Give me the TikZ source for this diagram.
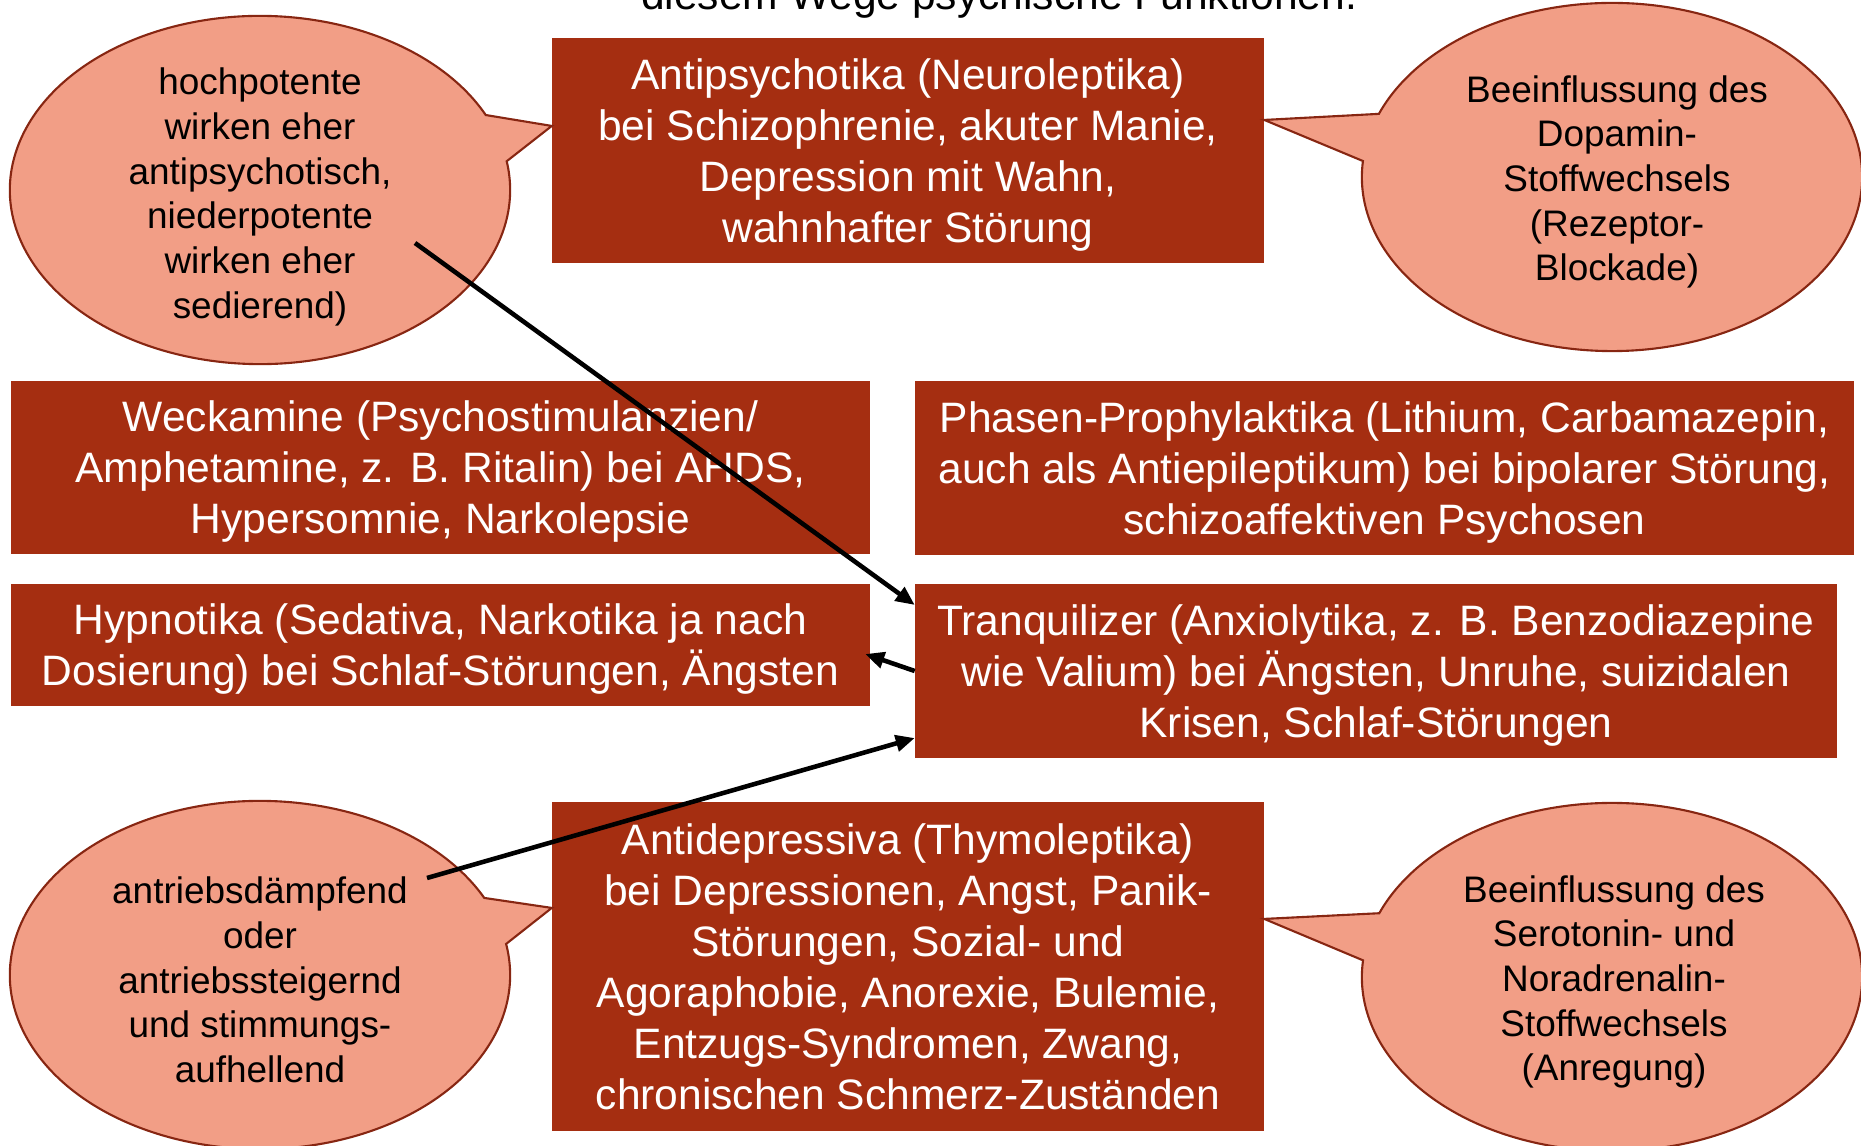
\documentclass[tikz,border=0pt]{standalone}
\usepackage{fontspec}
\setmainfont{Liberation Sans}
\usetikzlibrary{arrows.meta,shapes.callouts,calc}

\definecolor{boxred}{RGB}{165,46,17}
\definecolor{bubblefill}{RGB}{242,158,134}
\definecolor{bubbleline}{RGB}{135,38,18}

\tikzset{
  drug/.style={rectangle, fill=boxred, text=white, inner sep=0pt, outer sep=0pt,
    align=center, font=\fontsize{12.1}{14.5}\selectfont, text depth=0pt},
  bubble/.style={ellipse callout, fill=bubblefill, draw=bubbleline, line width=0.6pt,
    minimum width=5cm, minimum height=3.48cm, inner sep=0pt, outer sep=0pt,
    callout pointer arc=16},
  bubbletext/.style={align=center, inner sep=0pt, font=\fontsize{10.5}{12.7}\selectfont},
  link/.style={-{Triangle[length=5.4pt,width=4.6pt]}, line width=1.3pt, black}
}

\begin{document}
\begin{tikzpicture}[x=0.01cm,y=-0.01cm]
  \useasboundingbox (0,0) rectangle (1861,1146);
  \clip (0,0) rectangle (1861,1146);

  \node[anchor=base, inner sep=0pt, font=\fontsize{12.1}{14.5}\selectfont] (title) at (999,10) {diesem Wege psychische Funktionen.}; %Heading, cut off at the top

  % drug groups
  \node[drug, minimum width=7.12cm, minimum height=2.25cm] (antipsy) at (908,150.5)
    {Antipsychotika (Neuroleptika)\\bei Schizophrenie, akuter Manie,\\Depression mit Wahn,\\wahnhafter Störung};
  \node[drug, minimum width=8.59cm, minimum height=1.73cm] (weck) at (440.5,467.5)
    {Weckamine (Psychostimulanzien/\\Amphetamine, z. B. Ritalin) bei AHDS,\\Hypersomnie, Narkolepsie};
  \node[drug, minimum width=9.39cm, minimum height=1.74cm] (phasen) at (1384.5,468)
    {Phasen-Prophylaktika (Lithium, Carbamazepin,\\auch als Antiepileptikum) bei bipolarer Störung,\\schizoaffektiven Psychosen};
  \node[drug, minimum width=8.59cm, minimum height=1.22cm] (hypno) at (440.5,645)
    {Hypnotika (Sedativa, Narkotika ja nach\\Dosierung) bei Schlaf-Störungen, Ängsten};
  \node[drug, minimum width=9.22cm, minimum height=1.74cm] (tranq) at (1376,671)
    {Tranquilizer (Anxiolytika, z. B. Benzodiazepine\\wie Valium) bei Ängsten, Unruhe, suizidalen\\Krisen, Schlaf-Störungen};
  \node[drug, minimum width=7.12cm, minimum height=3.29cm] (antidep) at (908,966.5)
    {Antidepressiva (Thymoleptika)\\bei Depressionen, Angst, Panik-\\Störungen, Sozial- und\\Agoraphobie, Anorexie, Bulemie,\\Entzugs-Syndromen, Zwang,\\chronischen Schmerz-Zuständen};

  % speech bubbles
  \node[bubble, callout absolute pointer={($(antipsy.north west)+(0,88)$)}] (potenz) at (260,190) {};
  \node[bubble, callout absolute pointer={($(antipsy.north east)+(0,82)$)}] (dopamin) at (1612,177) {};
  \node[bubble, callout absolute pointer={($(antidep.north west)+(0,106)$)}] (antrieb) at (260,975) {};
  \node[bubble, callout absolute pointer={($(antidep.north east)+(0,117)$)}] (serotonin) at (1612,977) {};

  \node[bubbletext] (potenz-t) at (260,197) {hochpotente\\wirken eher\\antipsychotisch,\\niederpotente\\wirken eher\\sedierend)};
  \node[bubbletext] (dopamin-t) at (1617,182) {Beeinflussung des\\Dopamin-\\Stoffwechsels\\(Rezeptor-\\Blockade)};
  \node[bubbletext] (antrieb-t) at (260,980) {antriebsdämpfend\\oder\\antriebssteigernd\\und stimmungs-\\aufhellend};
  \node[bubbletext] (serotonin-t) at (1614,982) {Beeinflussung des\\Serotonin- und\\Noradrenalin-\\Stoffwechsels\\(Anregung)};

  % arrows
  \coordinate (s1) at (415,243); %start inside upper left bubble
  \coordinate (s3) at (427,878); %start inside lower left bubble
  \draw[link] (s1) -- ($(tranq.north west)+(0,21)$);
  \draw[link] (tranq.west) -- ($(hypno.east)+(-5,9)$);
  \draw[link] (s3) -- ($(tranq.south west)+(0,-20)$);
\end{tikzpicture}
\end{document}
